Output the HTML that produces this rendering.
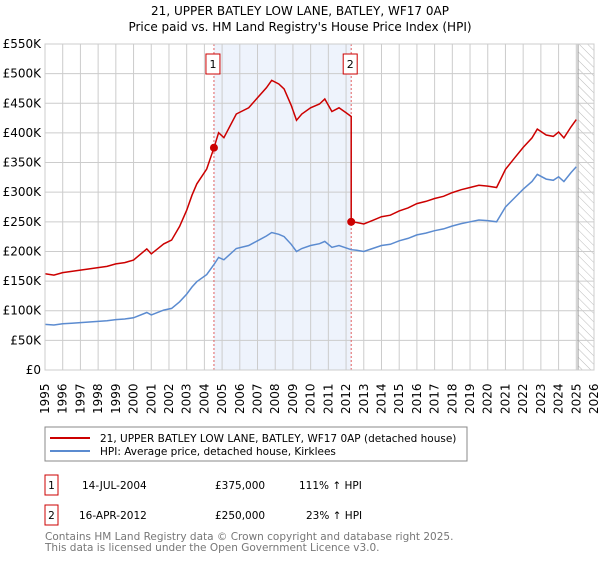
<!DOCTYPE html>
<html><head><meta charset="utf-8"><style>
body{margin:0;background:#fff;font-family:"Liberation Sans","DejaVu Sans",sans-serif;}
svg text{font-family:"DejaVu Sans","Liberation Sans",sans-serif;}
</style></head><body>
<svg id="c" width="600" height="560" xmlns="http://www.w3.org/2000/svg">
<defs><pattern id="hatch" width="6" height="6" patternUnits="userSpaceOnUse" patternTransform="rotate(-45)"><line x1="0" y1="0" x2="0" y2="6" stroke="#bbb" stroke-width="1"/></pattern></defs>
<text x="300" y="15" text-anchor="middle" font-size="12">21, UPPER BATLEY LOW LANE, BATLEY, WF17 0AP</text>
<text x="300" y="31" text-anchor="middle" font-size="12">Price paid vs. HM Land Registry's House Price Index (HPI)</text>
<g id="plot"></g>
<rect x="45" y="427" width="422" height="34" fill="#fff" stroke="#888"/>
<line x1="50" y1="438" x2="90" y2="438" stroke="#cc0000" stroke-width="2"/>
<text x="100" y="442" font-size="10.5">21, UPPER BATLEY LOW LANE, BATLEY, WF17 0AP (detached house)</text>
<line x1="50" y1="451" x2="90" y2="451" stroke="#5b8bd0" stroke-width="2"/>
<text x="100" y="455" font-size="10.5">HPI: Average price, detached house, Kirklees</text>
<g font-size="10.5">
<rect x="45" y="475" width="13" height="20" fill="#fff" stroke="#cc0000"/><text x="51.5" y="489" text-anchor="middle">1</text>
<text x="82" y="489">14-JUL-2004</text><text x="215" y="489">£375,000</text><text x="299" y="489">111% ↑ HPI</text>
<rect x="45" y="505" width="13" height="20" fill="#fff" stroke="#cc0000"/><text x="51.5" y="519" text-anchor="middle">2</text>
<text x="79" y="519">16-APR-2012</text><text x="215" y="519">£250,000</text><text x="306" y="519">23% ↑ HPI</text>
</g>
<text x="45" y="540" font-size="10.5" fill="#777">Contains HM Land Registry data © Crown copyright and database right 2025.</text>
<text x="45" y="551" font-size="10.5" fill="#777">This data is licensed under the Open Government Licence v3.0.</text>
</svg>
<script>
const hpiYears=[1995,1995.5,1996,1996.5,1997,1997.5,1998,1998.5,1999,1999.5,2000,2000.75,2001,2001.7,2002.15,2002.6,2003.0,2003.3,2003.57,2004.13,2004.54,2004.8,2005.1,2005.8,2006.5,2007,2007.5,2007.8,2008.2,2008.5,2008.9,2009.2,2009.5,2010,2010.5,2010.8,2011.2,2011.6,2012,2012.29,2012.6,2013,2013.5,2014,2014.5,2015,2015.5,2016,2016.5,2017,2017.5,2018,2018.5,2019,2019.5,2020,2020.5,2021,2021.5,2022,2022.5,2022.8,2023.3,2023.7,2024,2024.3,2024.7,2025.0];
const hpiValues=[77,76,78,79,80,81,82,83,85,86,88,97,93,101,104,115,128,140,149,161,178,190,186,205,210,218,226,232,229,225,212,200,205,210,213,217,207,210,206,203,202,200,205,210,212,218,222,228,231,235,238,243,247,250,253,252,250,275,290,305,318,330,322,320,326,318,333,343];
const sales=[{t:2004.54,v:375,label:"1"},{t:2012.29,v:250,label:"2"}];
const yTicks=[0,50,100,150,200,250,300,350,400,450,500,550];
const yLabels=["£0","£50K","£100K","£150K","£200K","£250K","£300K","£350K","£400K","£450K","£500K","£550K"];
const xTicks=[1995,1996,1997,1998,1999,2000,2001,2002,2003,2004,2005,2006,2007,2008,2009,2010,2011,2012,2013,2014,2015,2016,2017,2018,2019,2020,2021,2022,2023,2024,2025,2026];
const dataEnd=2025.1;

const NS="http://www.w3.org/2000/svg";
const L=45,R=594,T=44,B=370;
const x=t=>L+(t-1995)/(2026-1995)*(R-L);
const y=v=>B-v/550*(B-T);
const g=document.getElementById('plot');
function mk(tag,attrs){const e=document.createElementNS(NS,tag);for(const k in attrs)e.setAttribute(k,attrs[k]);g.appendChild(e);return e;}
function hpiAt(t){for(let i=0;i<hpiYears.length-1;i++){if(t>=hpiYears[i]&&t<=hpiYears[i+1]){const f=(t-hpiYears[i])/(hpiYears[i+1]-hpiYears[i]);return hpiValues[i]+f*(hpiValues[i+1]-hpiValues[i]);}}return hpiValues[hpiValues.length-1];}

let e=mk('rect',{x:x(sales[0].t),y:T,width:x(sales[1].t)-x(sales[0].t),height:B-T,fill:'#eef3fc'});


e=mk('rect',{x:x(dataEnd),y:T,width:R-x(dataEnd),height:B-T,fill:'url(#hatch)'});


yTicks.forEach((v,i)=>{
 let l=mk('line',{x1:L,x2:R,y1:y(v),y2:y(v),stroke:'#ccc'});
 
 
 let t=mk('text',{x:L-4,y:y(v)+4,'text-anchor':'end','font-size':'12'});t.textContent=yLabels[i];
 
 
});
xTicks.forEach(yr=>{
 let l=mk('line',{x1:x(yr),x2:x(yr),y1:T,y2:B,stroke:'#ccc'});
 
 
 let t=mk('text',{x:0,y:0,'font-size':'12',transform:`translate(${x(yr)+4},${B+44}) rotate(-90)`});t.textContent=yr;
 
 
});
e=mk('line',{x1:x(dataEnd),x2:x(dataEnd),y1:T,y2:B,stroke:'#999'});


sales.forEach(s=>{
 let l=mk('line',{x1:x(s.t),x2:x(s.t),y1:T,y2:B,stroke:'#e06060','stroke-dasharray':'2,2'});
 
 
});
let d=hpiYears.map((t,i)=>(i?'L':'M')+x(t).toFixed(1)+','+y(hpiValues[i]).toFixed(1)).join('');
e=mk('path',{d:d,fill:'none',stroke:'#5b8bd0','stroke-width':1.5});


const f0=sales[0].v/hpiAt(sales[0].t), f1=sales[1].v/hpiAt(sales[1].t);
let pts=[];
hpiYears.forEach((t,i)=>{
 if(t<sales[1].t) pts.push([t,hpiValues[i]*f0]);
 if(i<hpiYears.length-1 && t<sales[1].t && hpiYears[i+1]>=sales[1].t){pts.push([sales[1].t,hpiAt(sales[1].t)*f0]);pts.push([sales[1].t,sales[1].v]);}
 if(t>sales[1].t) pts.push([t,hpiValues[i]*f1]);
});
d=pts.map((p,i)=>(i?'L':'M')+x(p[0]).toFixed(1)+','+y(p[1]).toFixed(1)).join('');
e=mk('path',{d:d,fill:'none',stroke:'#cc0000','stroke-width':1.5});


sales.forEach(s=>{
 let c=mk('circle',{cx:x(s.t),cy:y(s.v),r:4,fill:'#cc0000'});
 
 
 let r=mk('rect',{x:x(s.t)-8,y:54,width:14,height:20,fill:'#fff',stroke:'#cc0000'});
 
 
 let t=mk('text',{x:x(s.t)-1,y:68,'text-anchor':'middle','font-size':'11'});t.textContent=s.label;
 
 
});
e=mk('rect',{x:L,y:T,width:R-L,height:B-T,fill:'none',stroke:'#ccc'});


</script>
</body></html>
